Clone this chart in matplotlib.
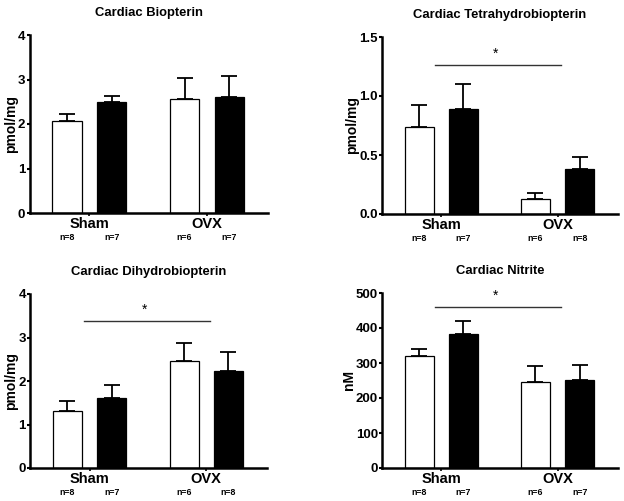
import matplotlib
matplotlib.use("Agg")
import matplotlib.pyplot as plt

plt.rcParams['font.family'] = ['Liberation Sans', 'DejaVu Sans']

groups = ["Sham", "OVX"]

titles = ["Cardiac Biopterin", "Cardiac Tetrahydrobiopterin",
          "Cardiac Dihydrobiopterin", "Cardiac Nitrite"]
ylabels = ["pmol/mg", "pmol/mg", "pmol/mg", "nM"]

# values: [sham_white, sham_black, ovx_white, ovx_black]
biopterin_mean = [2.06, 2.50, 2.57, 2.61]
biopterin_err = [0.16, 0.13, 0.46, 0.46]
bh4_mean = [0.74, 0.89, 0.125, 0.38]
bh4_err = [0.18, 0.21, 0.05, 0.10]
bh2_mean = [1.32, 1.61, 2.45, 2.23]
bh2_err = [0.23, 0.29, 0.42, 0.43]
nitrite_mean = [320, 382, 247, 251]
nitrite_err = [20, 38, 45, 44]

n_labels = [["n=8", "n=7", "n=6", "n=7"],
            ["n=8", "n=7", "n=6", "n=8"],
            ["n=8", "n=7", "n=6", "n=8"],
            ["n=8", "n=7", "n=6", "n=7"]]

yticks = [[0, 1, 2, 3, 4], [0.0, 0.5, 1.0, 1.5], [0, 1, 2, 3, 4],
          [0, 100, 200, 300, 400, 500]]
yticklabels = [["0", "1", "2", "3", "4"], ["0.0", "0.5", "1.0", "1.5"],
               ["0", "1", "2", "3", "4"],
               ["0", "100", "200", "300", "400", "500"]]
ylims = [4, 1.5, 4, 500]

# significance bars: value (y) or None
sig_y = [None, 1.26, 3.38, 460]

means = [biopterin_mean, bh4_mean, bh2_mean, nitrite_mean]
errs = [biopterin_err, bh4_err, bh2_err, nitrite_err]

W, H = 624, 501
fig = plt.figure(figsize=(W / 100, H / 100), dpi=100)

# pixel boxes: left, right, top, bottom
boxes = [(29.5, 268, 35, 213), (382, 618, 37, 214),
         (30, 267, 294, 468), (382, 618, 293, 468)]

off = 0.19
bw = 0.25
xpos = [0 - off, 0 + off, 1 - off, 1 + off]
colors = ["white", "black", "white", "black"]

for i in range(4):
    l, r, t, b = boxes[i]
    ax = fig.add_axes([l / W, 1 - b / H, (r - l) / W, (b - t) / H])
    ax.bar(xpos, means[i], width=bw, color=colors, edgecolor="black",
           linewidth=0.9, zorder=2)
    ax.errorbar(xpos, means[i], yerr=[[0] * 4, errs[i]], fmt="none",
                ecolor="black", elinewidth=1.3, capsize=5.5, capthick=1.3,
                zorder=1)
    ax.set_xlim(-0.51, 1.52)
    ax.set_ylim(0, ylims[i])
    ax.set_yticks(yticks[i])
    ax.set_yticklabels(yticklabels[i], fontsize=9.5, fontweight="bold")
    ax.set_xticks([0, 1])
    ax.set_xticklabels(groups, fontsize=10.5, fontweight="bold")
    ax.tick_params(axis="y", length=2.5, width=1.5, pad=0.5)
    ax.tick_params(axis="x", length=2.5, width=1.2, pad=0.5)
    for s in ["top", "right"]:
        ax.spines[s].set_visible(False)
    for s in ["left", "bottom"]:
        ax.spines[s].set_linewidth(1.8)
    ax.set_ylabel(ylabels[i], fontsize=10, fontweight="bold", labelpad=0)
    ax.set_title(titles[i], fontsize=9.4, fontweight="bold", pad=14)
    for xp, lab in zip(xpos, n_labels[i]):
        ax.annotate(lab, xy=(xp, 0), xycoords=("data", "axes fraction"),
                    xytext=(0, -17.5), textcoords="offset points",
                    ha="center", va="center", fontsize=6.3,
                    fontweight="bold")
    if sig_y[i] is not None:
        ax.plot([-0.05, 1.03], [sig_y[i], sig_y[i]], color="#333333",
                linewidth=1.0, clip_on=False)
        ax.annotate("*", xy=(0.47, sig_y[i]), xytext=(0, 3),
                    textcoords="offset points", ha="center", va="bottom",
                    fontsize=10)

fig.savefig("out.png", dpi=100)
